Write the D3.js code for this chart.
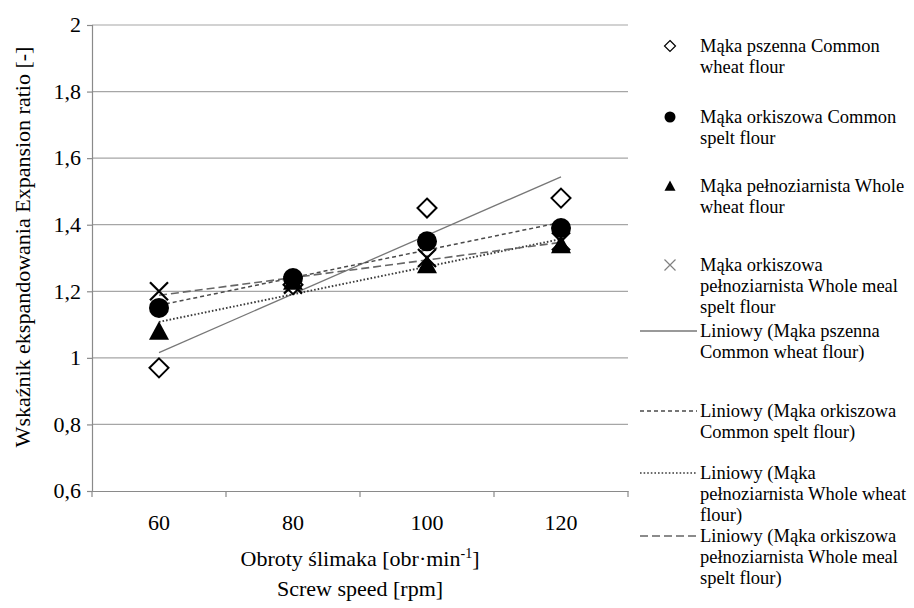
<!DOCTYPE html>
<html><head><meta charset="utf-8">
<script src="https://cdn.jsdelivr.net/npm/d3@7"></script>
</head><body style="margin:0">
<svg id="chart" width="914" height="608"></svg>
<script>
// ---- data ----
const categories = ["60", "80", "100", "120"];
const wheatFlour = [0.97, 1.22, 1.45, 1.48];
const speltFlour = [1.15, 1.24, 1.35, 1.39];
const wholeWheatFlour = [1.08, 1.23, 1.28, 1.34];
const wholeMealSpeltFlour = [1.20, 1.22, 1.30, 1.35];
const yTickValues = [0.6, 0.8, 1.0, 1.2, 1.4, 1.6, 1.8, 2.0];
const seriesLabels = [
  ["Mąka pszenna Common", "wheat flour"],
  ["Mąka orkiszowa Common", "spelt flour"],
  ["Mąka pełnoziarnista Whole", "wheat flour"],
  ["Mąka orkiszowa", "pełnoziarnista Whole meal", "spelt flour"]
];
const trendLabels = [
  ["Liniowy (Mąka pszenna", "Common wheat flour)"],
  ["Liniowy (Mąka orkiszowa", "Common spelt flour)"],
  ["Liniowy (Mąka", "pełnoziarnista Whole wheat", "flour)"],
  ["Liniowy (Mąka orkiszowa", "pełnoziarnista Whole meal", "spelt flour)"]
];
const yTitle = "Wskaźnik ekspandowania Expansion ratio [-]";
const xTitle2 = "Screw speed [rpm]";

// ---- layout ----
const FONT = "Liberation Serif";
const L = 92, R = 628, T = 25, B = 491;
const svg = d3.select("#chart");
const x = d3.scaleBand().domain(categories).range([L, R]);
const y = d3.scaleLinear().domain([0.6, 2]).range([B, T]);
const cx = c => x(c) + x.bandwidth() / 2;
const gridColor = "#a6a6a6", axisColor = "#8a8a8a";

function txt(parent, size) {
  return parent.append("text").attr("font-family", FONT).attr("font-size", size).attr("fill", "#000");
}

// gridlines
svg.append("g").selectAll("line").data(yTickValues.filter(v => v > 0.6)).join("line")
  .attr("x1", L).attr("x2", R).attr("y1", d => y(d)).attr("y2", d => y(d))
  .attr("stroke", gridColor).attr("stroke-width", 1.2);

// y axis
const fmt = d => (Math.round(d * 10) / 10).toString().replace(".", ",");
const gy = svg.append("g").attr("transform", `translate(${L},0)`)
  .call(d3.axisLeft(y).tickValues(yTickValues).tickSize(5).tickFormat(""));
gy.selectAll("path,line").attr("stroke", axisColor).attr("stroke-width", 1.2);
gy.selectAll("text").remove();
yTickValues.forEach(v => {
  txt(svg, 22).attr("x", L - 11).attr("y", y(v)).attr("dy", "0.33em").attr("text-anchor", "end").text(fmt(v));
});

// x axis
const gx = svg.append("g").attr("transform", `translate(0,${B})`)
  .call(d3.axisBottom(x).tickSize(0).tickSizeOuter(0).tickFormat(""));
gx.select("path").attr("stroke", axisColor).attr("stroke-width", 1.2);
gx.selectAll("text").remove();
categories.forEach(c => {
  txt(svg, 22).attr("x", cx(c)).attr("y", 530).attr("text-anchor", "middle").text(c);
});
svg.append("g").selectAll("line").data(categories.map(c => x(c)).concat([R])).join("line")
  .attr("x1", d => d).attr("x2", d => d).attr("y1", B).attr("y2", B + 6)
  .attr("stroke", axisColor).attr("stroke-width", 1.2);

// axis titles
txt(svg, 22).attr("transform", `translate(30,${(T + B) / 2 - 11}) rotate(-90)`)
  .attr("text-anchor", "middle").text(yTitle);
const xt = txt(svg, 22).attr("x", (L + R) / 2).attr("y", 566).attr("text-anchor", "middle");
xt.append("tspan").text("Obroty ślimaka [obr·min");
xt.append("tspan").attr("dy", -8).attr("font-size", 14).text("-1");
xt.append("tspan").attr("dy", 8).text("]");
txt(svg, 22).attr("x", (L + R) / 2).attr("y", 596).attr("text-anchor", "middle").text(xTitle2);

// ---- trend lines (least squares on category index) ----
function fit(vals) {
  const n = vals.length, xs = vals.map((_, i) => i + 1);
  const mx = d3.mean(xs), my = d3.mean(vals);
  const b = d3.sum(xs, (xx, i) => (xx - mx) * (vals[i] - my)) / d3.sum(xs, xx => (xx - mx) ** 2);
  const a = my - b * mx;
  return [a + b * 1, a + b * n];
}
const series = [wheatFlour, speltFlour, wholeWheatFlour, wholeMealSpeltFlour];
const lineStyles = [
  {stroke: "#777", dash: null, w: 1.3},
  {stroke: "#4a4a4a", dash: "4,3", w: 1.5},
  {stroke: "#3a3a3a", dash: "1.6,2", w: 1.9},
  {stroke: "#666", dash: "8,4", w: 1.6}
];
series.forEach((s, i) => {
  const [y0, y1] = fit(s);
  svg.append("line")
    .attr("x1", cx(categories[0])).attr("y1", y(y0))
    .attr("x2", cx(categories[categories.length - 1])).attr("y2", y(y1))
    .attr("stroke", lineStyles[i].stroke).attr("stroke-width", lineStyles[i].w)
    .attr("stroke-dasharray", lineStyles[i].dash);
});

// ---- markers ----
function marker(g, type, s, legend) {
  if (type === 0) {
    g.append("path").attr("d", `M0,${-s}L${s},0L0,${s}L${-s},0Z`)
      .attr("fill", "#fff").attr("stroke", "#000").attr("stroke-width", legend ? 1.2 : 2);
  } else if (type === 1) {
    g.append("circle").attr("r", s).attr("fill", "#000");
  } else if (type === 2) {
    g.append("path").attr("d", `M0,${-s}L${s},${s * 0.85}L${-s},${s * 0.85}Z`).attr("fill", "#000");
  } else {
    g.append("path").attr("d", `M${-s},${-s}L${s},${s}M${-s},${s}L${s},${-s}`)
      .attr("stroke", legend ? "#808080" : "#000").attr("stroke-width", legend ? 1.2 : 2.2).attr("fill", "none");
  }
}
const markerSizes = [9.5, 10, 10, 9];
series.forEach((s, i) => {
  s.forEach((v, j) => {
    const g = svg.append("g").attr("transform", `translate(${cx(categories[j])},${y(v)})`);
    marker(g, i, markerSizes[i], false);
  });
});

// ---- legend ----
const legendTop = [46, 117, 186, 265, 331, 411, 473, 536];
const lineH = 20.7, textX = 700;
const legendSizes = [5.5, 5.5, 5.5, 5.5];
function legendText(lines, yy) {
  lines.forEach((t, k) => txt(svg, 18.5).attr("x", textX).attr("y", yy + k * lineH).attr("dy", "0.33em").text(t));
}
seriesLabels.forEach((lines, i) => {
  const yy = legendTop[i];
  const g = svg.append("g").attr("transform", `translate(670,${yy})`);
  marker(g, i, legendSizes[i], true);
  legendText(lines, yy);
});
trendLabels.forEach((lines, i) => {
  const yy = legendTop[4 + i];
  svg.append("line").attr("x1", 640).attr("x2", 697).attr("y1", yy).attr("y2", yy)
    .attr("stroke", lineStyles[i].stroke).attr("stroke-width", Math.min(lineStyles[i].w, 1.4))
    .attr("stroke-dasharray", lineStyles[i].dash);
  legendText(lines, yy);
});
</script>
</body></html>
